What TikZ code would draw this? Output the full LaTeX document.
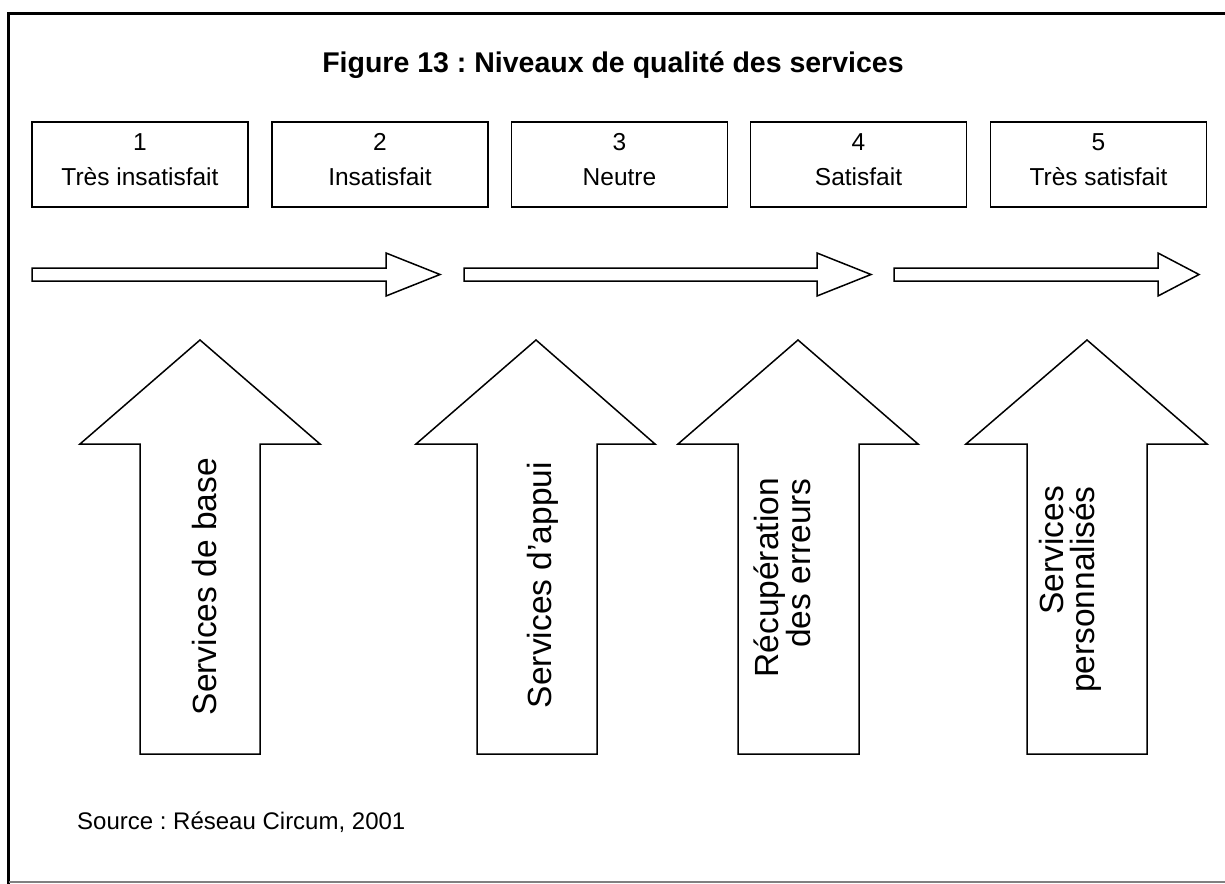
\documentclass[tikz,border=0pt]{standalone}
\usepackage{fontspec}
\setmainfont{Liberation Sans}
\frenchspacing
\begin{document}
\begin{tikzpicture}[x=1pt,y=-1pt,
  shp/.style={draw=black, line width=1.5pt, fill=white, line join=miter},
  lvlbox/.style={draw=black, line width=1.4pt, minimum width=216pt, minimum height=85pt, inner sep=0pt},
  lvltxt/.style={align=center, font=\fontsize{24.5}{35}\selectfont, inner sep=0pt},
  vtxt/.style={rotate=90, anchor=east, align=right, font=\fontsize{33.5}{31}\selectfont, inner sep=0pt}]
\useasboundingbox (0,0) rectangle (1225,883);
% frame
\draw[line width=3.5pt] (8.5,1000) -- (8.5,13.5) -- (1400,13.5);
\draw[gray, line width=1.6pt] (8.5,882) -- (1400,882);
% title
\node[font=\bfseries\fontsize{28.5}{32}\selectfont, inner sep=0pt] (title) at (613,65) {Figure 13 : Niveaux de qualité des services};
% level boxes
\node[lvlbox] (b1) at (140,164.5) {};
\node[lvlbox] (b2) at (380,164.5) {};
\node[lvlbox] (b3) at (619.5,164.5) {};
\node[lvlbox] (b4) at (858.5,164.5) {};
\node[lvlbox] (b5) at (1098.5,164.5) {};
\node[lvltxt] (t1) at (b1.center) [yshift=5pt] {1\\Très insatisfait};
\node[lvltxt] (t2) at (b2.center) [yshift=5pt] {2\\Insatisfait};
\node[lvltxt] (t3) at (b3.center) [yshift=5pt] {3\\Neutre};
\node[lvltxt] (t4) at (b4.center) [yshift=5pt] {4\\Satisfait};
\node[lvltxt] (t5) at (b5.center) [yshift=5pt] {5\\Très satisfait};
% horizontal arrows
\draw[shp] (32,268) -- (386,268) -- (386,253) -- (440,274.5) -- (386,296) -- (386,281) -- (32,281) -- cycle;
\draw[shp] (464,268) -- (817,268) -- (817,253) -- (871,274.5) -- (817,296) -- (817,281) -- (464,281) -- cycle;
\draw[shp] (894,268) -- (1158,268) -- (1158,253) -- (1199,274.5) -- (1158,296) -- (1158,281) -- (894,281) -- cycle;
% vertical arrows
\draw[shp] (140,754) -- (140,444) -- (80,444) -- (200,340) -- (320,444) -- (260,444) -- (260,754) -- cycle;
\draw[shp] (477,754) -- (477,444) -- (416,444) -- (536,340) -- (655,444) -- (597,444) -- (597,754) -- cycle;
\draw[shp] (738,754) -- (738,444) -- (678,444) -- (798,340) -- (918,444) -- (859,444) -- (859,754) -- cycle;
\draw[shp] (1027,754) -- (1027,444) -- (966,444) -- (1087,340) -- (1207,444) -- (1147,444) -- (1147,754) -- cycle;
% vertical labels
\node[vtxt] (v1) at (205,458) {Services de base};
\node[vtxt] (v2) at (543,462) {Services d’appui};
\node[vtxt] (v3) at (782,478) {Récupération\\des erreurs};
\node[vtxt] (v4) at (1070,486) {Services\\personnalisés};
% source
\node[font=\fontsize{24}{28}\selectfont, anchor=west, inner sep=0pt] (src) at (77,822) {Source : Réseau Circum, 2001};
\end{tikzpicture}
\end{document}
